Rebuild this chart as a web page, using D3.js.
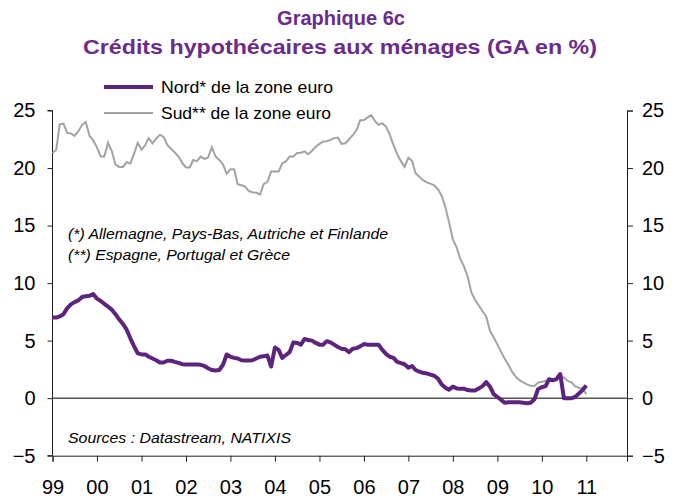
<!DOCTYPE html>
<head>
<meta charset="utf-8">
<style>
  body { margin: 0; background: #fff; }
  svg { font-family: "Liberation Sans", Arial, sans-serif; }
</style>
<script src="https://d3js.org/d3.v7.min.js"></script>
</head>
<body>
<script>
// monthly data, Jan 1999 .. Jan 2011
var startYear = 1999;
var nord = [7.0, 7.0, 7.1, 7.3, 7.8, 8.15, 8.35, 8.5, 8.8, 8.85, 8.9, 9.05,
  8.65, 8.45, 8.2, 7.95, 7.7, 7.3, 6.85, 6.45, 5.95, 5.2, 4.5, 3.9,
  3.8, 3.8, 3.6, 3.45, 3.3, 3.1, 3.1, 3.25, 3.25, 3.15, 3.07, 2.95,
  2.92, 2.92, 2.92, 2.92, 2.9, 2.8, 2.6, 2.45, 2.4, 2.45, 2.9, 3.8,
  3.6, 3.5, 3.45, 3.3, 3.27, 3.27, 3.3, 3.45, 3.6, 3.65, 3.7, 2.75,
  4.4, 4.2, 3.5, 3.75, 4.0, 4.85, 4.8, 4.65, 5.15, 5.05, 5.0, 4.8,
  4.65, 4.65, 4.95, 4.85, 4.65, 4.45, 4.3, 4.25, 4.0, 4.3, 4.35, 4.5,
  4.7, 4.65, 4.65, 4.65, 4.65, 4.2, 3.85, 3.6, 3.5, 3.15, 3.05, 2.95,
  2.65, 2.8, 2.45, 2.3, 2.2, 2.15, 2.05, 1.95, 1.7, 1.2, 0.9, 0.73,
  1.0, 0.85, 0.82, 0.82, 0.7, 0.67, 0.67, 0.85, 1.05, 1.4, 1.0, 0.35,
  0.1, -0.15, -0.4, -0.35, -0.35, -0.35, -0.35, -0.4, -0.45, -0.4, -0.1, 0.8,
  0.95, 1.05, 1.65, 1.55, 1.65, 2.1, 0.0, 0.0, 0.0, 0.1, 0.4, 0.7,
  1.1];
var sud = [21.3, 21.6, 23.8, 23.85, 23.05, 23.0, 22.8, 23.2, 23.75, 24.0, 22.8, 22.4,
  21.8, 21.0, 21.0, 22.2, 21.5, 20.3, 20.1, 20.1, 20.5, 20.4, 21.25, 22.2,
  21.6, 22.0, 22.6, 22.15, 22.55, 22.9, 22.7, 22.0, 21.65, 21.35, 21.0, 20.45,
  20.05, 20.05, 20.7, 20.6, 21.0, 20.8, 20.9, 21.8, 21.0, 20.7, 20.3, 19.5,
  19.9, 19.9, 18.6, 18.5, 18.4, 18.0, 17.9, 17.85, 17.7, 18.6, 18.8, 19.7,
  19.7, 19.7, 20.4, 20.6, 21.0, 21.0, 21.3, 21.33, 21.45, 21.2, 21.5, 21.85,
  22.1, 22.3, 22.33, 22.45, 22.6, 22.65, 22.1, 22.15, 22.5, 22.85, 23.3, 24.15,
  24.17, 24.4, 24.6, 24.1, 23.75, 23.9, 23.6, 22.9, 22.0, 21.2, 20.6, 20.1,
  20.9, 20.6, 19.55, 19.25, 18.95, 18.75, 18.65, 18.5, 18.15, 17.6, 16.6, 15.3,
  13.8, 13.1, 12.15, 11.45, 10.6, 9.2, 8.55, 8.05, 7.55, 7.1, 5.85, 5.3,
  4.65, 4.0, 3.45, 2.9, 2.3, 1.85, 1.57, 1.37, 1.2, 1.07, 1.05, 1.35,
  1.43, 1.5, 1.53, 1.6, 1.7, 1.85, 1.8, 1.5, 1.37, 1.05, 0.9, 0.82,
  0.35];
var yTicks = [-5, 0, 5, 10, 15, 20, 25];
var xYears = [1999, 2000, 2001, 2002, 2003, 2004, 2005, 2006, 2007, 2008, 2009, 2010, 2011];
var seriesNames = ["Nord* de la zone euro", "Sud** de la zone euro"];
var notes = ["(*) Allemagne, Pays-Bas, Autriche et Finlande", "(**) Espagne, Portugal et Grèce"];
var source = "Sources : Datastream, NATIXIS";

var width = 681, height = 498;
var purple = "#5c247d", titleColor = "#6a2c8c", grey = "#a3a3a3";

var svg = d3.select("body").append("svg").attr("width", width).attr("height", height);

var x = d3.scaleTime()
    .domain([new Date(1999, 0, 1), new Date(2011, 11, 1)])
    .range([52.5, 627]);
var y = d3.scaleLinear().domain([-5, 25]).range([455.7, 110.5]);

function dateOf(i) { return new Date(startYear, i, 1); }

// title
svg.append("text").attr("x", 341).attr("y", 25).attr("text-anchor", "middle")
  .attr("font-size", "20px").attr("font-weight", "bold").attr("fill", titleColor)
  .text("Graphique 6c");
svg.append("text").attr("x", 340).attr("y", 54).attr("text-anchor", "middle")
  .attr("font-size", "20px").attr("font-weight", "bold").attr("fill", titleColor)
  .attr("textLength", 514).attr("lengthAdjust", "spacingAndGlyphs")
  .text("Crédits hypothécaires aux ménages (GA en %)");

// axes
var axisL = svg.append("g").attr("transform", "translate(52.5,0)")
  .call(d3.axisLeft(y).tickValues(yTicks).tickSize(5).tickPadding(12).tickFormat(d3.format("d")));
var axisR = svg.append("g").attr("transform", "translate(627,0)")
  .call(d3.axisRight(y).tickValues(yTicks).tickSize(6).tickPadding(9).tickFormat(d3.format("d")));
var axisB = svg.append("g").attr("transform", "translate(0,455.7)")
  .call(d3.axisBottom(x).tickValues(xYears.map(function(yr) { return new Date(yr, 0, 1); }))
    .tickSize(6).tickPadding(18)
    .tickFormat(function(d) { return d3.format("02d")(d.getFullYear() % 100); }));

[axisL, axisR, axisB].forEach(function(a) {
  a.select(".domain").attr("stroke", "#222");
  a.selectAll(".tick line").attr("stroke", "#222");
  a.selectAll("text").attr("font-size", "20px").attr("fill", "#000")
    .attr("font-family", "'Liberation Sans', Arial, sans-serif");
});
axisL.select(".domain").attr("d", "M-5,110.5H0V455.7H-5");

// zero line
svg.append("line").attr("x1", 52.5).attr("x2", 627).attr("y1", y(0)).attr("y2", y(0))
  .attr("stroke", "#000").attr("stroke-width", 1);

var line = d3.line().x(function(d, i) { return x(dateOf(i)); }).y(function(d) { return y(d); });

svg.append("path").datum(sud).attr("d", line).attr("fill", "none")
  .attr("stroke", grey).attr("stroke-width", 2);
svg.append("path").datum(nord).attr("d", line).attr("fill", "none")
  .attr("stroke", purple).attr("stroke-width", 4).attr("stroke-linejoin", "round");

// legend
var legend = [{ name: seriesNames[0], color: purple, w: 4, y: 87, len: 172 },
              { name: seriesNames[1], color: grey, w: 2, y: 113, len: 170 }];
legend.forEach(function(l) {
  svg.append("line").attr("x1", 104).attr("x2", 153).attr("y1", l.y).attr("y2", l.y)
    .attr("stroke", l.color).attr("stroke-width", l.w);
  svg.append("text").attr("x", 161).attr("y", l.y + 6).attr("font-size", "17px")
    .attr("textLength", l.len).attr("lengthAdjust", "spacingAndGlyphs").text(l.name);
});

// notes
svg.append("text").attr("x", 68).attr("y", 239).attr("font-size", "15px").attr("font-style", "italic")
  .attr("textLength", 320).attr("lengthAdjust", "spacingAndGlyphs").text(notes[0]);
svg.append("text").attr("x", 68).attr("y", 260).attr("font-size", "15px").attr("font-style", "italic")
  .attr("textLength", 222).attr("lengthAdjust", "spacingAndGlyphs").text(notes[1]);
svg.append("text").attr("x", 68).attr("y", 443).attr("font-size", "15px").attr("font-style", "italic")
  .attr("textLength", 223).attr("lengthAdjust", "spacingAndGlyphs").text(source);
</script>
</body>
</html>
